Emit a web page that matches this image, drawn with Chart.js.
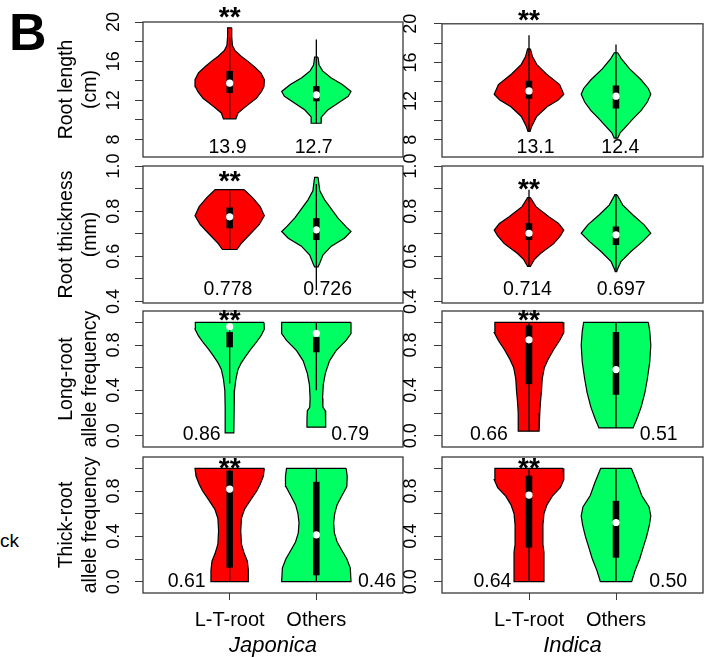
<!DOCTYPE html>
<html>
<head>
<meta charset="utf-8">
<script src="https://cdn.jsdelivr.net/npm/chart.js@4.4.1/dist/chart.umd.min.js"></script>
<style>
html, body { margin: 0; padding: 0; background: #fff; }
#wrap { position: relative; width: 709px; height: 657px; overflow: hidden; }
#wrap canvas { position: absolute; left: 0; top: 0; }
.lbl { position: absolute; white-space: nowrap; color: #000; font-family: "Liberation Sans", Arial, sans-serif; }
</style>
</head>
<body>
<div id="wrap">
  <div class="lbl" style="left:9px;top:6px;font-size:52px;line-height:52px;font-weight:bold;">B</div>
  <div class="lbl" style="left:0;top:531px;font-size:19px;line-height:19px;">ck</div>
</div>
<script>
// ---------- data ----------
const groups = ['L-T-root', 'Others'];
const subspecies = ['Japonica', 'Indica'];
const traitTitles = [['Root length', '(cm)'], ['Root thickness', '(mm)'],
                     ['Long-root', 'allele frequency'], ['Thick-root', 'allele frequency']];

const tickValues = [[8, 10, 12, 14, 16, 18, 20], [0.4, 0.5, 0.6, 0.7, 0.8, 0.9, 1.0],
                    [0, 0.2, 0.4, 0.6, 0.8, 1.0], [0, 0.2, 0.4, 0.6, 0.8, 1.0]];
const tickLabelled = [[8, 12, 16, 20], [0.4, 0.6, 0.8, 1.0], [0, 0.4, 0.8], [0, 0.4, 0.8]];
const tickDecimals = [0, 1, 1, 1];

const meanJaponica = [['13.9', '12.7'], ['0.778', '0.726'], ['0.86', '0.79'], ['0.61', '0.46']];
const meanIndica = [['13.1', '12.4'], ['0.714', '0.697'], ['0.66', '0.51'], ['0.64', '0.50']];
const signif = '**';

// violin outlines: [value, relative density], top to bottom
const jpLengthLT = [[19.4, 0.06], [18.5, 0.06], [17.6, 0.08], [17.1, 0.15], [16.5, 0.33], [16.0, 0.52], [15.4, 0.72], [14.8, 0.9], [14.1, 1.0], [13.4, 0.99], [12.9, 0.92], [12.2, 0.77], [11.4, 0.48], [10.7, 0.24], [10.1, 0.18]];
const jpLengthOt = [[16.4, 0.05], [15.6, 0.08], [15.0, 0.18], [14.3, 0.42], [13.6, 0.75], [12.9, 1.0], [12.4, 0.92], [11.7, 0.62], [11.0, 0.33], [10.3, 0.15], [9.65, 0.14]];
const inLengthLT = [[17.4, 0.04], [16.6, 0.1], [15.8, 0.22], [14.8, 0.5], [13.7, 0.88], [12.7, 1.0], [12.1, 0.84], [11.4, 0.52], [10.4, 0.22], [9.4, 0.08], [8.85, 0.03]];
const inLengthOt = [[17.0, 0.05], [16.4, 0.15], [15.3, 0.4], [14.2, 0.72], [13.3, 0.93], [12.7, 1.0], [11.9, 0.9], [11.0, 0.72], [10.2, 0.5], [9.6, 0.35], [8.7, 0.12], [8.15, 0.05]];

const jpDiamLT = [[0.895, 0.42], [0.86, 0.66], [0.82, 0.88], [0.78, 1.0], [0.74, 0.85], [0.70, 0.6], [0.66, 0.35], [0.63, 0.21]];
const jpDiamOt = [[0.95, 0.05], [0.89, 0.1], [0.85, 0.24], [0.81, 0.43], [0.77, 0.62], [0.73, 0.86], [0.71, 1.0], [0.68, 0.81], [0.645, 0.43], [0.605, 0.19], [0.57, 0.1], [0.553, 0.05]];
const inDiamLT = [[0.86, 0.04], [0.82, 0.2], [0.775, 0.57], [0.745, 0.85], [0.716, 1.0], [0.69, 0.9], [0.656, 0.71], [0.612, 0.33], [0.585, 0.15], [0.555, 0.04]];
const inDiamOt = [[0.873, 0.03], [0.828, 0.19], [0.784, 0.48], [0.739, 0.81], [0.702, 1.0], [0.665, 0.76], [0.621, 0.43], [0.576, 0.14], [0.545, 0.05], [0.532, 0.02]];

const jpLongLT = [[1.0, 0.99], [0.94, 1.0], [0.88, 0.9], [0.82, 0.76], [0.76, 0.6], [0.70, 0.46], [0.64, 0.33], [0.585, 0.24], [0.5, 0.18], [0.4, 0.14], [0.25, 0.13], [0.025, 0.12]];
const jpLongOt = [[1.0, 1.0], [0.9, 1.0], [0.84, 0.86], [0.75, 0.57], [0.66, 0.38], [0.55, 0.26], [0.45, 0.2], [0.33, 0.18], [0.25, 0.19], [0.22, 0.26], [0.15, 0.27], [0.075, 0.27]];
const inLongLT = [[1.0, 0.98], [0.91, 1.0], [0.84, 0.88], [0.76, 0.71], [0.68, 0.56], [0.6, 0.44], [0.5, 0.38], [0.4, 0.36], [0.3, 0.33], [0.2, 0.31], [0.04, 0.29]];
const inLongOt = [[1.0, 0.93], [0.92, 0.97], [0.8, 1.0], [0.65, 0.97], [0.5, 0.9], [0.38, 0.83], [0.25, 0.72], [0.15, 0.6], [0.068, 0.49]];

const jpThickLT = [[1.0, 1.0], [0.93, 0.97], [0.86, 0.88], [0.8, 0.78], [0.72, 0.6], [0.64, 0.43], [0.56, 0.34], [0.45, 0.32], [0.33, 0.34], [0.25, 0.42], [0.18, 0.51], [0.1, 0.54], [0.0, 0.54]];
const jpThickOt = [[1.0, 0.86], [0.93, 0.89], [0.84, 0.88], [0.76, 0.74], [0.68, 0.6], [0.6, 0.53], [0.52, 0.5], [0.43, 0.52], [0.35, 0.6], [0.28, 0.73], [0.2, 0.88], [0.12, 0.98], [0.0, 1.0]];
const inThickLT = [[1.0, 0.98], [0.9, 1.0], [0.83, 0.9], [0.755, 0.67], [0.68, 0.52], [0.6, 0.43], [0.5, 0.4], [0.33, 0.4], [0.26, 0.43], [0.0, 0.43]];
const inThickOt = [[1.0, 0.44], [0.88, 0.6], [0.76, 0.74], [0.66, 0.95], [0.58, 1.0], [0.5, 0.96], [0.4, 0.88], [0.3, 0.78], [0.2, 0.68], [0.1, 0.55], [0.0, 0.45]];

// box stats: [lower whisker, Q1, median, Q3, upper whisker]
const jpLengthLTBox = [10.1, 12.75, 13.75, 15.0, 18.4];
const jpLengthOtBox = [9.65, 11.9, 12.55, 13.45, 18.2];
const inLengthLTBox = [8.8, 12.24, 13.05, 14.1, 18.8];
const inLengthOtBox = [8.15, 11.22, 12.5, 13.6, 17.86];
const jpDiamLTBox = [0.63, 0.724, 0.775, 0.816, 0.895];
const jpDiamOtBox = [0.45, 0.672, 0.717, 0.769, 0.92];
const inDiamLTBox = [0.555, 0.672, 0.702, 0.747, 0.895];
const inDiamOtBox = [0.532, 0.65, 0.695, 0.732, 0.873];
const jpLongLTBox = [0.46, 0.78, 0.962, 0.914, 1.0];
const jpLongOtBox = [0.40, 0.736, 0.903, 0.87, 1.0];
const inLongLTBox = [0.04, 0.455, 0.846, 0.973, 1.0];
const inLongOtBox = [0.068, 0.361, 0.583, 0.914, 1.0];
const jpThickLTBox = [0.0, 0.124, 0.817, 0.979, 1.0];
const jpThickOtBox = [0.0, 0.056, 0.412, 0.881, 1.0];
const inThickLTBox = [0.0, 0.301, 0.764, 0.935, 1.0];
const inThickOtBox = [0.0, 0.212, 0.522, 0.713, 1.0];

// [trait][subspecies][group]
const violins = [
  [[jpLengthLT, jpLengthOt], [inLengthLT, inLengthOt]],
  [[jpDiamLT, jpDiamOt], [inDiamLT, inDiamOt]],
  [[jpLongLT, jpLongOt], [inLongLT, inLongOt]],
  [[jpThickLT, jpThickOt], [inThickLT, inThickOt]]
];
const boxes = [
  [[jpLengthLTBox, jpLengthOtBox], [inLengthLTBox, inLengthOtBox]],
  [[jpDiamLTBox, jpDiamOtBox], [inDiamLTBox, inDiamOtBox]],
  [[jpLongLTBox, jpLongOtBox], [inLongLTBox, inLongOtBox]],
  [[jpThickLTBox, jpThickOtBox], [inThickLTBox, inThickOtBox]]
];
const means = [meanJaponica, meanIndica];

// ---------- layout / style ----------
const W = 709, H = 657;
const colLeft = [143, 442], colRight = [403, 703];
const rowTop = [22, 166, 311, 457], rowBottom = [157, 303, 447, 593];
const yRange = [[6.2, 20], [0.393, 1.0], [-0.1, 1.1], [-0.1, 1.1]];
const labelGap = [29, 31];       // box edge to tick-label centre (tuned)
const halfWidth = 0.4;           // widest violin half-width, x units
const RED = '#ff0000', GREEN = '#00ff62';
const fills = [[[RED, GREEN], [RED, GREEN]], [[RED, GREEN], [RED, GREEN]],
               [[GREEN, GREEN], [RED, GREEN]], [[RED, GREEN], [RED, GREEN]]];
const meanX = [[[0.975, 1.97], [1.075, 2.05]], [[0.98, 2.13], [0.983, 2.06]],
               [[0.677, 2.39], [0.54, 2.49]], [[0.504, 2.7], [0.58, 2.6]]];
const meanY = [7.14, 0.453, 0.01, 0.0];
const starY = [[21.0, 20.9], [0.953, 0.92], [1.06, 1.06], [1.047, 1.047]];
const FONT = '"Liberation Sans", Arial, sans-serif';
const FRAME = '#3a3a3a';

Chart.defaults.font.family = FONT;
Chart.defaults.color = '#000';

const meas = document.createElement('canvas').getContext('2d');
function textWidth(s, size) { meas.font = size + 'px ' + FONT; return meas.measureText(s).width; }

function outline(profile, cx) {
  const right = profile.map(([v, d]) => ({x: cx + d * halfWidth, y: v}));
  const left = profile.slice().reverse().map(([v, d]) => ({x: cx - d * halfWidth, y: v}));
  return right.concat(left, [right[0]]);
}

const decoPlugin = {
  id: 'deco',
  afterDraw(chart) {
    const {ctx, chartArea: a, scales: {x, y}} = chart;
    const p = chart.options.plugins.deco;
    ctx.save();
    ctx.strokeStyle = FRAME;
    ctx.lineWidth = 1.3;
    ctx.strokeRect(a.left, a.top, a.right - a.left, a.bottom - a.top);
    ctx.fillStyle = '#000';
    ctx.font = '19.5px ' + FONT;
    ctx.textAlign = 'center';
    ctx.textBaseline = 'middle';
    p.means.forEach((m, i) => ctx.fillText(m, x.getPixelForValue(p.meanX[i]), y.getPixelForValue(p.meanY)));
    ctx.font = 'bold 28px ' + FONT;
    ctx.textBaseline = 'alphabetic';
    const mt = ctx.measureText(signif);
    const mid = (mt.actualBoundingBoxAscent - mt.actualBoundingBoxDescent) / 2;
    ctx.fillText(signif, x.getPixelForValue(1), y.getPixelForValue(p.starY) + mid);
    ctx.restore();
  }
};

function makePanel(row, col) {
  const cv = document.createElement('canvas');
  cv.width = W; cv.height = H;
  document.getElementById('wrap').appendChild(cv);

  const datasets = [];
  [0, 1].forEach(g => {
    const cx = g + 1;
    const b = boxes[row][col][g];
    datasets.push({data: outline(violins[row][col][g], cx), backgroundColor: fills[row][col][g],
                   borderColor: '#000', borderWidth: 1.2, fill: 'shape', pointRadius: 0, order: 4});
    datasets.push({data: [{x: cx, y: b[0]}, {x: cx, y: b[4]}], borderColor: '#000', borderWidth: 1.3,
                   fill: false, pointRadius: 0, order: 3});
    datasets.push({data: [{x: cx, y: b[1]}, {x: cx, y: b[3]}], borderColor: '#000', borderWidth: 6.5,
                   borderCapStyle: 'butt', fill: false, pointRadius: 0, order: 2});
    datasets.push({data: [{x: cx, y: b[2]}], showLine: false, pointRadius: 3.6, pointBorderWidth: 0,
                   pointBackgroundColor: '#fff', order: 1});
  });

  const fmt = v => v.toFixed(tickDecimals[row]);
  const widest = Math.max(...tickLabelled[row].map(v => textWidth(fmt(v), 18)));
  const bottomRow = row === 3;

  new Chart(cv, {
    type: 'line',
    data: {datasets},
    plugins: [decoPlugin],
    options: {
      responsive: false, animation: false, devicePixelRatio: 1, events: [],
      layout: {autoPadding: false, padding: {left: 0, top: rowTop[row], right: W - colRight[col],
               bottom: bottomRow ? 0 : H - rowBottom[row]}},
      plugins: {
        legend: {display: false}, tooltip: {enabled: false},
        deco: {means: means[col][row], meanX: meanX[row][col], meanY: meanY[row], starY: starY[row][col]}
      },
      scales: {
        x: {
          type: 'linear', min: 0, max: 3, display: bottomRow,
          afterBuildTicks: ax => { ax.ticks = [1, 2].map(v => ({value: v})); },
          afterFit: ax => { if (bottomRow) ax.height = H - rowBottom[row]; },
          ticks: {autoSkip: false, maxRotation: 0, font: {size: 20}, padding: 8,
                  callback: v => groups[Math.round(v) - 1]},
          grid: {drawOnChartArea: false, drawTicks: true, tickLength: 7, color: FRAME},
          border: {display: false},
          title: {display: bottomRow, text: subspecies[col], font: {size: 22, style: 'italic', lineHeight: 1.0},
                  padding: {top: 0, bottom: 0}}
        },
        y: {
          type: 'linear', min: yRange[row][0], max: yRange[row][1],
          afterBuildTicks: ax => { ax.ticks = tickValues[row].map(v => ({value: v})); },
          afterFit: ax => { ax.width = colLeft[col]; },
          ticks: {autoSkip: false, minRotation: 90, maxRotation: 90, crossAlign: 'center',
                  padding: labelGap[col] - 8 - widest / 2, font: {size: 18},
                  callback: v => tickLabelled[row].some(l => Math.abs(l - v) < 1e-9) ? fmt(v) : ''},
          grid: {drawOnChartArea: false, drawTicks: true, tickLength: 8, color: FRAME},
          border: {display: false},
          title: {display: col === 0, text: traitTitles[row], font: {size: 19.5, lineHeight: 1.25},
                  padding: {top: 54.5, bottom: 0}}
        }
      }
    }
  });
}

for (let r = 0; r < 4; r++) for (let c = 0; c < 2; c++) makePanel(r, c);
</script>
</body>
</html>
